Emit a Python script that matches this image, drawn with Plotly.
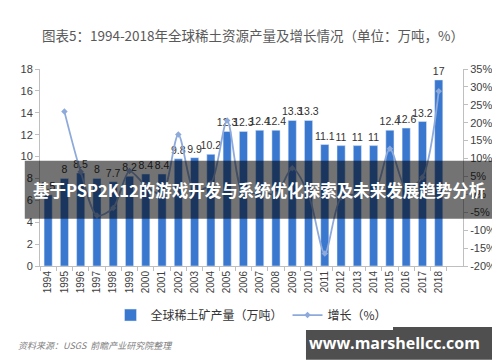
import plotly.graph_objects as go

years = [str(y) for y in range(1994, 2019)]
production = [6.5, 8, 8.5, 8, 7.7, 8.2, 8.4, 8.4, 9.8, 9.9, 10.2, 12.3, 12.3,
              12.4, 12.4, 13.3, 13.3, 11.1, 11, 11, 11, 12.4, 12.6, 13.2, 17]
growth_years = years[1:]
growth = [23.1, 6.3, -5.9, -3.8, 6.5, 2.4, 0.0, 16.7, 1.0, 3.0, 20.6, 0.0,
          0.8, 0.0, 7.3, 0.0, -16.5, -0.9, 0.0, 0.0, 12.7, 1.6, 4.8, 28.8]
right_ticks = list(range(-20, 40, 5))
right_labels = [f"{'-' if v < 0 else ''}{abs(v)}%" for v in right_ticks]

FONT = "Noto Sans CJK SC, Liberation Sans, sans-serif"
NUMFONT = "Liberation Sans, sans-serif"

fig = go.Figure()
fig.add_trace(go.Bar(
    x=years, y=production, name="全球稀土矿产量（万吨）",
    marker=dict(color="#3a78d0"),
    text=[f"{v:g}" for v in production], textposition="outside",
    constraintext="none",
    textfont=dict(size=10.5, color="#333333", family=NUMFONT),
    cliponaxis=False, yaxis="y",
))
fig.add_trace(go.Scatter(
    x=growth_years, y=growth, name="增长（%）", yaxis="y2",
    mode="lines+markers",
    line=dict(color="#8eaadb", width=1.8, shape="spline", smoothing=0.8),
    marker=dict(symbol="diamond", size=5, color="#8eaadb"),
))

axis_line = "#bfbfbf"
fig.update_layout(
    width=500, height=362,
    margin=dict(l=32, r=45, t=61, b=104, autoexpand=False),
    paper_bgcolor="white", plot_bgcolor="white",
    font=dict(family=FONT, color="#404040", size=10),
    bargap=0.5,
    showlegend=True,
    legend=dict(orientation="h", x=0.5, xanchor="center", y=-0.249, yanchor="middle",
                font=dict(size=12, color="#333333"), itemwidth=30, tracegroupgap=0),
    title=dict(text="图表5：1994-2018年全球稀土资源产量及增长情况（单位：万吨，%）",
               x=0.49, xanchor="center", y=1 - 28 / 362, yanchor="middle",
               font=dict(size=13.5, color="#595959", family=FONT)),
    xaxis=dict(type="category", tickangle=-90, showline=True, linecolor=axis_line,
               ticks="outside", ticklen=4, tickcolor=axis_line, tickson="boundaries",
               tickfont=dict(size=10, color="#404040", family=NUMFONT),
               showgrid=False, automargin=False),
    yaxis=dict(range=[0, 18], dtick=2, showline=True, linecolor=axis_line,
               ticks="outside", ticklen=4, tickcolor=axis_line, showgrid=False,
               zeroline=False, automargin=False,
               tickfont=dict(size=11, color="#404040", family=NUMFONT)),
    yaxis2=dict(range=[-20, 35], tickvals=right_ticks, ticktext=right_labels,
                overlaying="y", side="right", automargin=False,
                showline=True, linecolor=axis_line, ticks="outside", ticklen=4,
                tickcolor=axis_line, showgrid=False, zeroline=False,
                tickfont=dict(size=11, color="#404040", family=NUMFONT)),
)

# source note
fig.add_annotation(text="<i>资料来源：USGS  前瞻产业研究院整理</i>", xref="paper", yref="paper",
                   x=-0.0567, y=-0.406, xanchor="left", yanchor="middle", showarrow=False,
                   font=dict(size=9, color="#7f7f7f", family=FONT))

# overlays
fig.add_shape(type="rect", xref="paper", yref="paper", x0=-0.036, x1=1.071,
              y0=0.240, y1=0.5345, fillcolor="rgba(0,0,0,0.55)", line=dict(width=0),
              layer="above")
fig.add_shape(type="rect", xref="paper", yref="paper", x0=0.6288, x1=1.0868,
              y0=-0.4756, y1=-0.3096, fillcolor="rgba(60,60,60,0.9)", line=dict(width=0),
              layer="above")
fig.add_annotation(text="<b>基于PSP2K12的游戏开发与系统优化探索及未来发展趋势分析</b>",
                   xref="paper", yref="paper", x=(-0.036 + 1.071) / 2, y=(0.240 + 0.5345) / 2,
                   xanchor="center", yanchor="middle", showarrow=False,
                   font=dict(size=16.5, color="white", family=FONT))
fig.add_annotation(text="<b>www.marshellcc.com</b>", xref="paper", yref="paper",
                   x=(0.6288 + 1.0868) / 2 - 0.02, y=(-0.4756 - 0.3096) / 2,
                   xanchor="center", yanchor="middle", showarrow=False,
                   font=dict(size=16, color="white", family="Open Sans, DejaVu Sans, sans-serif"))

fig.write_html("out.html")
